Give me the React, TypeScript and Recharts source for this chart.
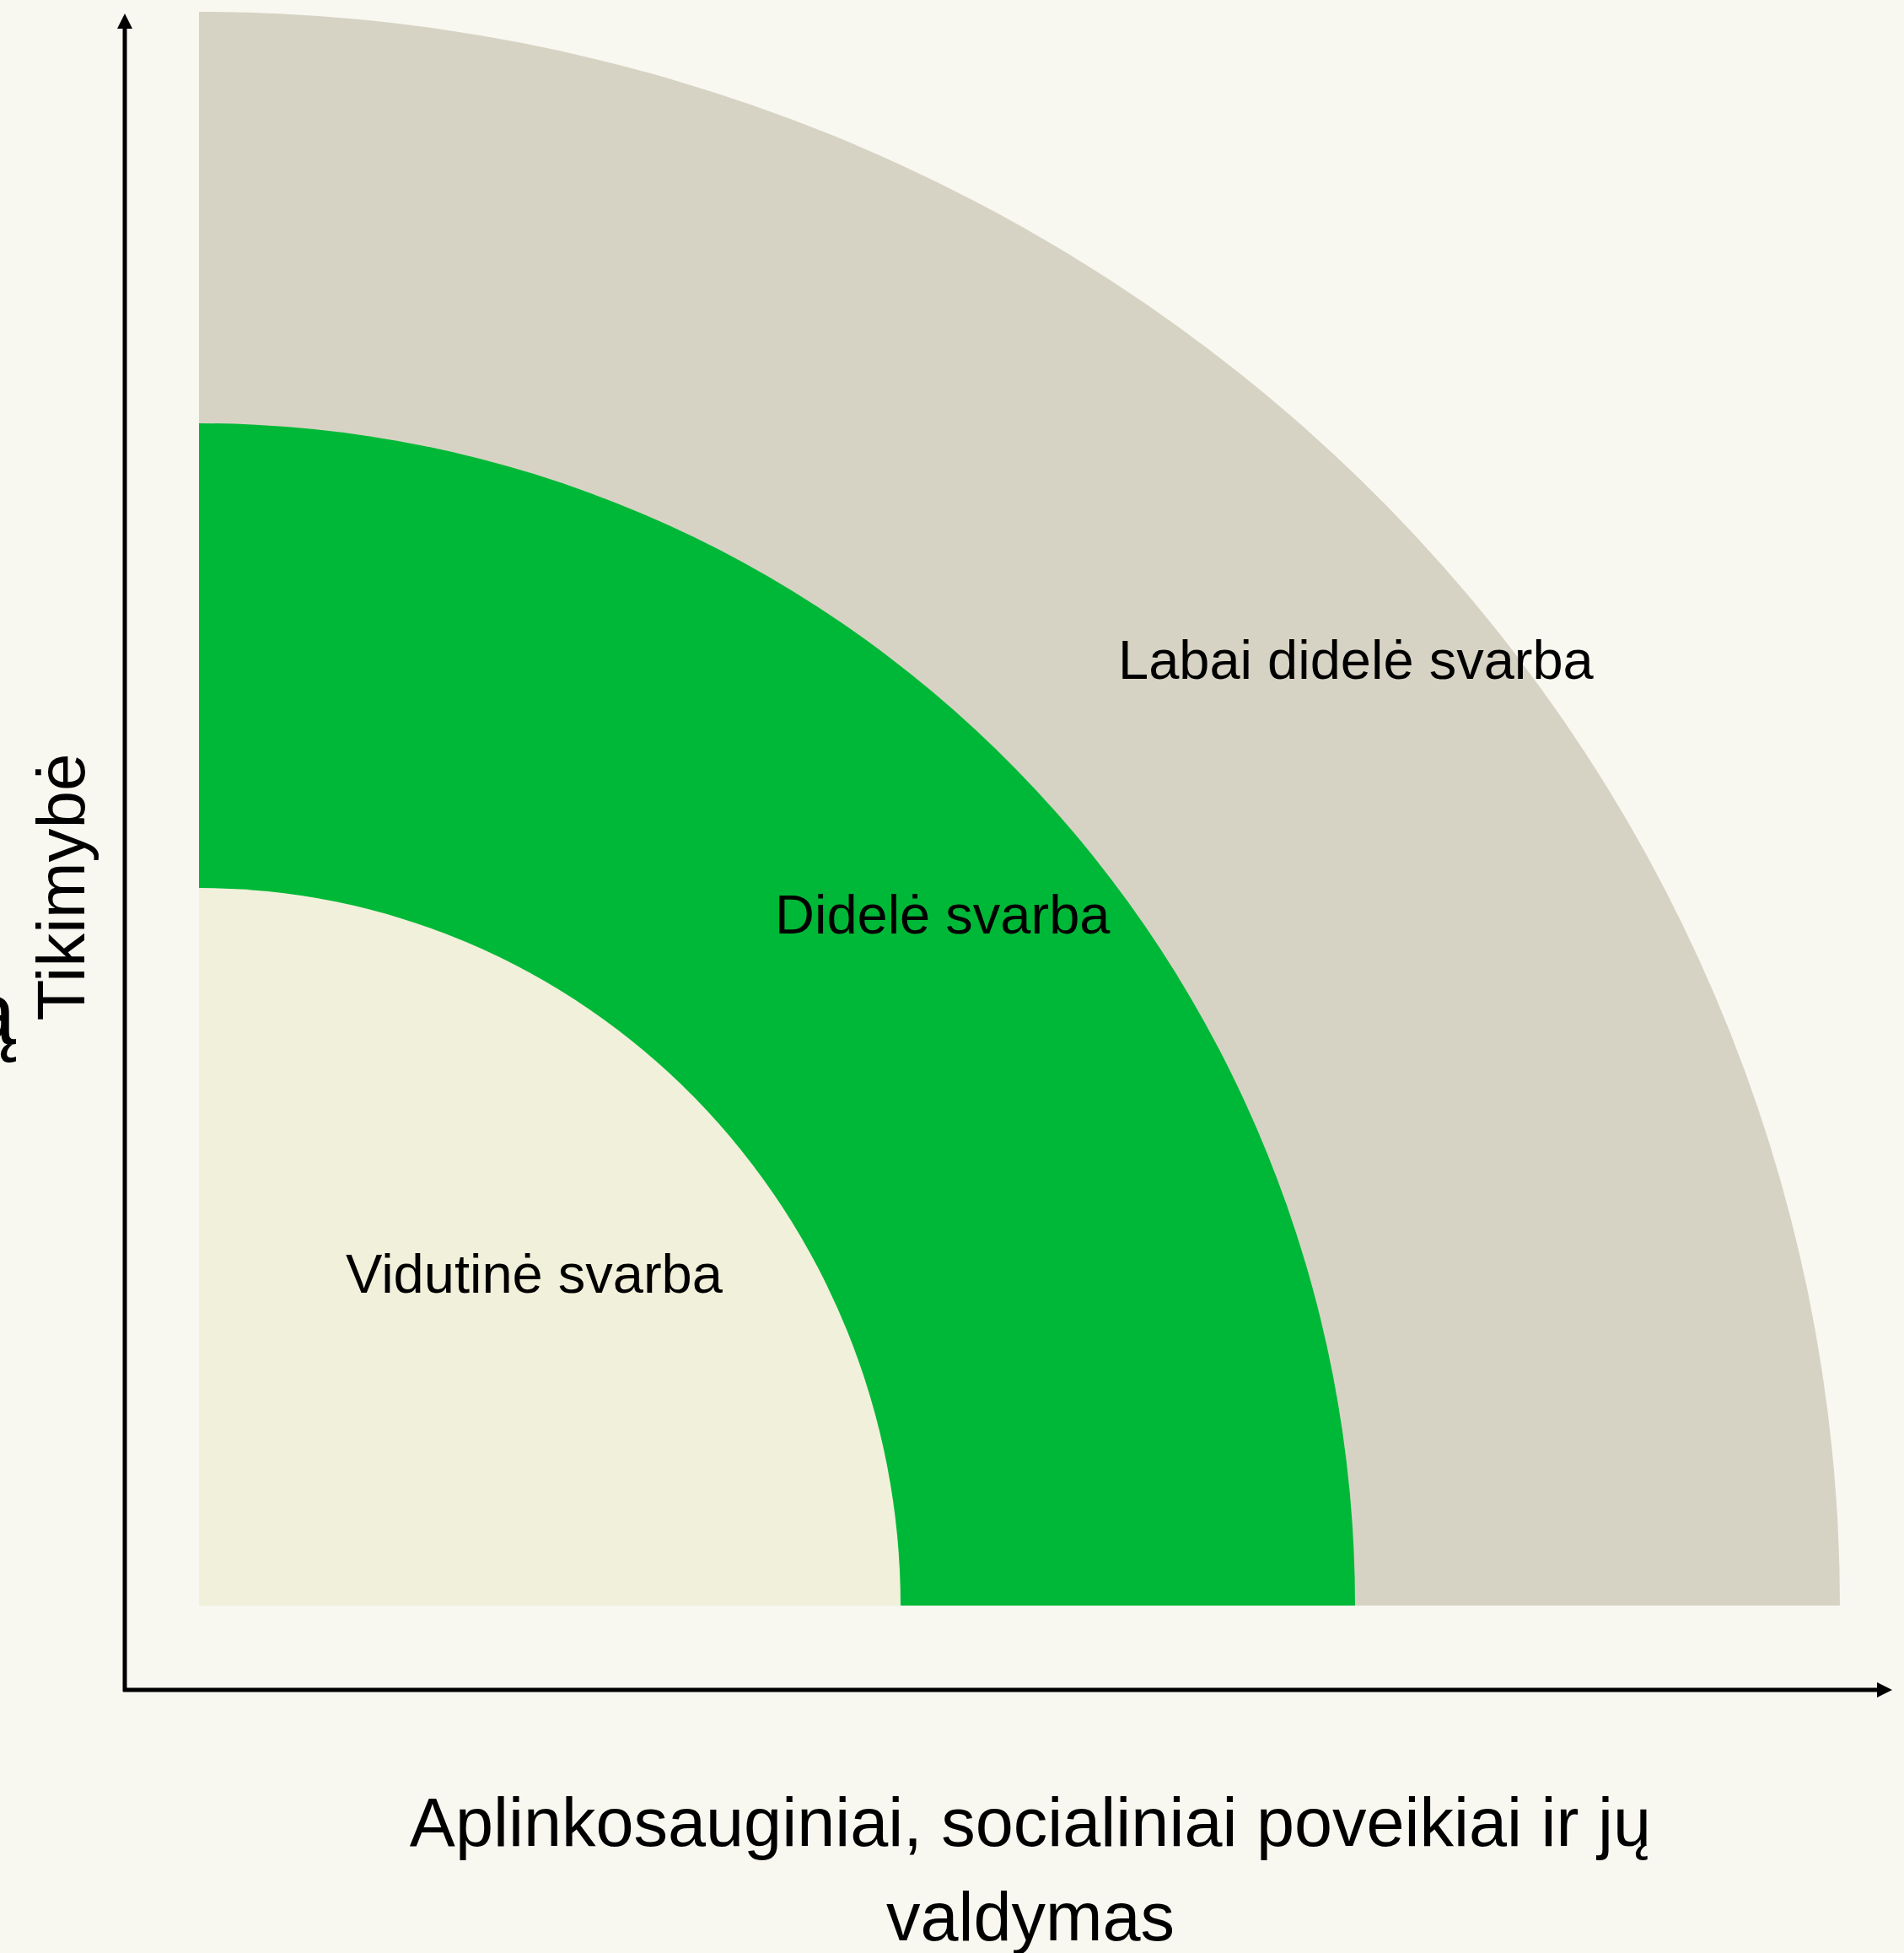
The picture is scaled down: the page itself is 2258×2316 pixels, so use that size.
import { Customized, Pie, PieChart, Sector } from "recharts";

// zones, drawn from the outside in so each one covers the centre of the previous
const zoneNames = ["Labai didelė svarba", "Didelė svarba", "Vidutinė svarba"];
const zoneValues = [1, 1, 1];
const xAxisLines = ["Aplinkosauginiai, socialiniai poveikiai ir jų", "valdymas"];
const yAxisLabel = "Tikimybė";

const FONT = "'Liberation Sans', Arial, sans-serif";
const CX = 236;
const CY = 1904;

const zoneStyles = [
  { fill: "#D7D3C4", rx: 1946, ry: 1890, dx: 1090, dy: -1099 },
  { fill: "#00B837", rx: 1371, ry: 1402, dx: 683, dy: -797 },
  { fill: "#F1F0DA", rx: 832, ry: 851, dx: 174, dy: -371 },
];

const ellipseShape = (ry: number) => (props: any) => {
  const { cx, cy, innerRadius, outerRadius, startAngle, endAngle, fill } = props;
  const k = ry / outerRadius;
  return (
    <g transform={`translate(0 ${cy}) scale(1 ${k}) translate(0 ${-cy})`}>
      <Sector
        cx={cx}
        cy={cy}
        innerRadius={innerRadius}
        outerRadius={outerRadius}
        startAngle={startAngle}
        endAngle={endAngle}
        fill={fill}
        stroke="none"
      />
    </g>
  );
};

const zoneLabel = (text: string, dx: number, dy: number) => (props: any) => (
  <text
    x={props.cx + dx}
    y={props.cy + dy}
    textAnchor="start"
    fontFamily={FONT}
    fontSize={65}
    fill="#000"
  >
    {text}
  </text>
);

const Axes = () => (
  <g>
    <line x1={148} y1={2006} x2={148} y2={30} stroke="#000" strokeWidth={5} />
    <polygon points="148,16 139,34 157,34" fill="#000" />
    <line x1={146} y1={2004} x2={2230} y2={2004} stroke="#000" strokeWidth={5} />
    <polygon points="2244,2004 2226,1995 2226,2013" fill="#000" />
    {xAxisLines.map((t, i) => (
      <text
        key={t}
        x={1222}
        y={2189 + i * 112}
        textAnchor="middle"
        fontFamily={FONT}
        fontSize={81}
        fill="#000"
      >
        {t}
      </text>
    ))}
    <text
      x={100}
      y={1052}
      textAnchor="middle"
      fontFamily={FONT}
      fontSize={80}
      fill="#000"
      transform="rotate(-90, 100, 1052)"
    >
      {yAxisLabel}
    </text>
    <text x={19} y={1238} textAnchor="end" fontFamily={FONT} fontSize={106} fill="#000">
      ą
    </text>
  </g>
);

const App = () => {
  return (
    <div
      style={{
        position: "absolute",
        left: 0,
        top: 0,
        width: 2258,
        height: 2316,
        background: "#F8F8F1",
        overflow: "hidden",
      }}
    >
      <PieChart width={2258} height={2316} margin={{ top: 0, right: 0, bottom: 0, left: 0 }}>
        {zoneStyles.map((z, i) => (
          <Pie
            key={zoneNames[i]}
            data={[{ name: zoneNames[i], value: zoneValues[i] }]}
            dataKey="value"
            cx={CX}
            cy={CY}
            innerRadius={0}
            outerRadius={z.rx}
            startAngle={90}
            endAngle={0}
            fill={z.fill}
            stroke="none"
            shape={ellipseShape(z.ry)}
            inactiveShape={ellipseShape(z.ry)}
            label={zoneLabel(zoneNames[i], z.dx, z.dy)}
            labelLine={false}
            isAnimationActive={false}
          />
        ))}
        <Customized component={Axes} />
      </PieChart>
    </div>
  );
};

export default App;
